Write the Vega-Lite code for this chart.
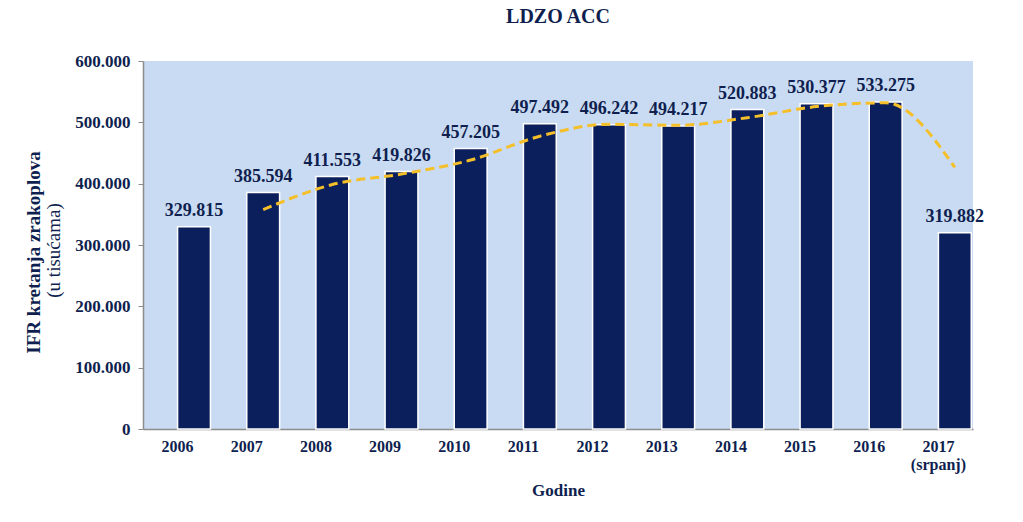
{
  "$schema": "https://vega.github.io/schema/vega-lite/v6.json",
  "width": 830,
  "height": 368,
  "autosize": {"type": "none"},
  "padding": {"left": 143, "top": 61, "right": 50, "bottom": 93},
  "background": "white",
  "title": {
    "text": "LDZO ACC",
    "font": "Liberation Serif",
    "fontSize": 20,
    "fontWeight": "bold",
    "color": "#0f1f4f",
    "offset": 25
  },
  "data": {
    "values": [
      {"year": "2006", "s": "IFR", "value": 329815, "label": "329.815", "trend": null},
      {"year": "2007", "s": "IFR", "value": 385594, "label": "385.594", "trend": 357705},
      {"year": "2008", "s": "IFR", "value": 411553, "label": "411.553", "trend": 398574},
      {"year": "2009", "s": "IFR", "value": 419826, "label": "419.826", "trend": 415690},
      {"year": "2010", "s": "IFR", "value": 457205, "label": "457.205", "trend": 438516},
      {"year": "2011", "s": "IFR", "value": 497492, "label": "497.492", "trend": 477349},
      {"year": "2012", "s": "IFR", "value": 496242, "label": "496.242", "trend": 496867},
      {"year": "2013", "s": "IFR", "value": 494217, "label": "494.217", "trend": 495230},
      {"year": "2014", "s": "IFR", "value": 520883, "label": "520.883", "trend": 507550},
      {"year": "2015", "s": "IFR", "value": 530377, "label": "530.377", "trend": 525630},
      {"year": "2016", "s": "IFR", "value": 533275, "label": "533.275", "trend": 531826},
      {"year": "2017 (srpanj)", "s": "IFR", "value": 319882, "label": "319.882", "trend": 426579}
    ]
  },
  "encoding": {
    "x": {
      "field": "year",
      "type": "nominal",
      "sort": null,
      "scale": {"paddingInner": 0.05, "paddingOuter": 0.025},
      "axis": {
        "title": "Godine",
        "titleFont": "Liberation Serif",
        "titleFontSize": 17,
        "titleFontWeight": "bold",
        "titleColor": "#0f1f4f",
        "titlePadding": 10,
        "labelFont": "Liberation Serif",
        "labelFontSize": 16,
        "labelFontWeight": "bold",
        "labelColor": "#0f1f4f",
        "labelAngle": 0,
        "labelPadding": 9,
        "labelLineHeight": 18,
        "labelExpr": "split(datum.value, ' ')",
        "ticks": false,
        "domainColor": "#8c8c8c",
        "domainWidth": 1.5
      }
    }
  },
  "layer": [
    {
      "mark": {"type": "bar", "color": "#0b1f5c", "stroke": "white", "strokeWidth": 1.5},
      "encoding": {
        "xOffset": {"field": "s", "type": "nominal", "scale": {"domain": ["", "IFR"], "paddingInner": 0, "paddingOuter": 0}},
        "y": {
          "field": "value",
          "type": "quantitative",
          "scale": {"domain": [0, 600000]},
          "axis": {
            "orient": "left",
            "title": "IFR kretanja zrakoplova",
            "titleFont": "Liberation Serif",
            "titleFontSize": 19,
            "titleFontWeight": "bold",
            "titleColor": "#0f1f4f",
            "titleBaseline": "middle",
            "titleX": -110,
            "titleY": 191,
            "values": [0, 100000, 200000, 300000, 400000, 500000, 600000],
            "labelExpr": "replace(format(datum.value, ','), ',', '.')",
            "labelFont": "Liberation Serif",
            "labelFontSize": 17,
            "labelFontWeight": "bold",
            "labelColor": "#0f1f4f",
            "labelPadding": 8,
            "tickColor": "#8c8c8c",
            "tickSize": 5,
            "domainColor": "#8c8c8c",
            "domainWidth": 1.5,
            "grid": false
          }
        }
      }
    },
    {
      "mark": {"type": "line", "color": "#f5bf2a", "strokeWidth": 3, "strokeDash": [9, 5], "interpolate": "monotone"},
      "encoding": {
        "x": {"field": "year", "type": "nominal", "sort": null, "bandPosition": 0.75},
        "y": {
          "field": "trend",
          "type": "quantitative",
          "scale": {"domain": [0, 600000]},
          "axis": {
            "orient": "left",
            "title": "(u tisućama)",
            "titleFont": "Liberation Serif",
            "titleFontSize": 19,
            "titleFontWeight": "normal",
            "titleColor": "#0f1f4f",
            "titleBaseline": "middle",
            "titleX": -90,
            "titleY": 189,
            "labels": false,
            "ticks": false,
            "domain": false,
            "grid": false
          }
        }
      }
    },
    {
      "mark": {"type": "text", "font": "Liberation Serif", "fontSize": 18, "fontWeight": "bold", "color": "#0f1f4f", "baseline": "bottom", "dy": -7},
      "encoding": {
        "x": {"field": "year", "type": "nominal", "sort": null, "bandPosition": 0.75},
        "y": {"field": "value", "type": "quantitative", "scale": {"domain": [0, 600000]}, "axis": null},
        "text": {"field": "label"}
      }
    }
  ],
  "resolve": {"scale": {"y": "independent"}, "axis": {"y": "independent"}},
  "config": {
    "view": {"fill": "#c9dbf2", "stroke": null}
  }
}
